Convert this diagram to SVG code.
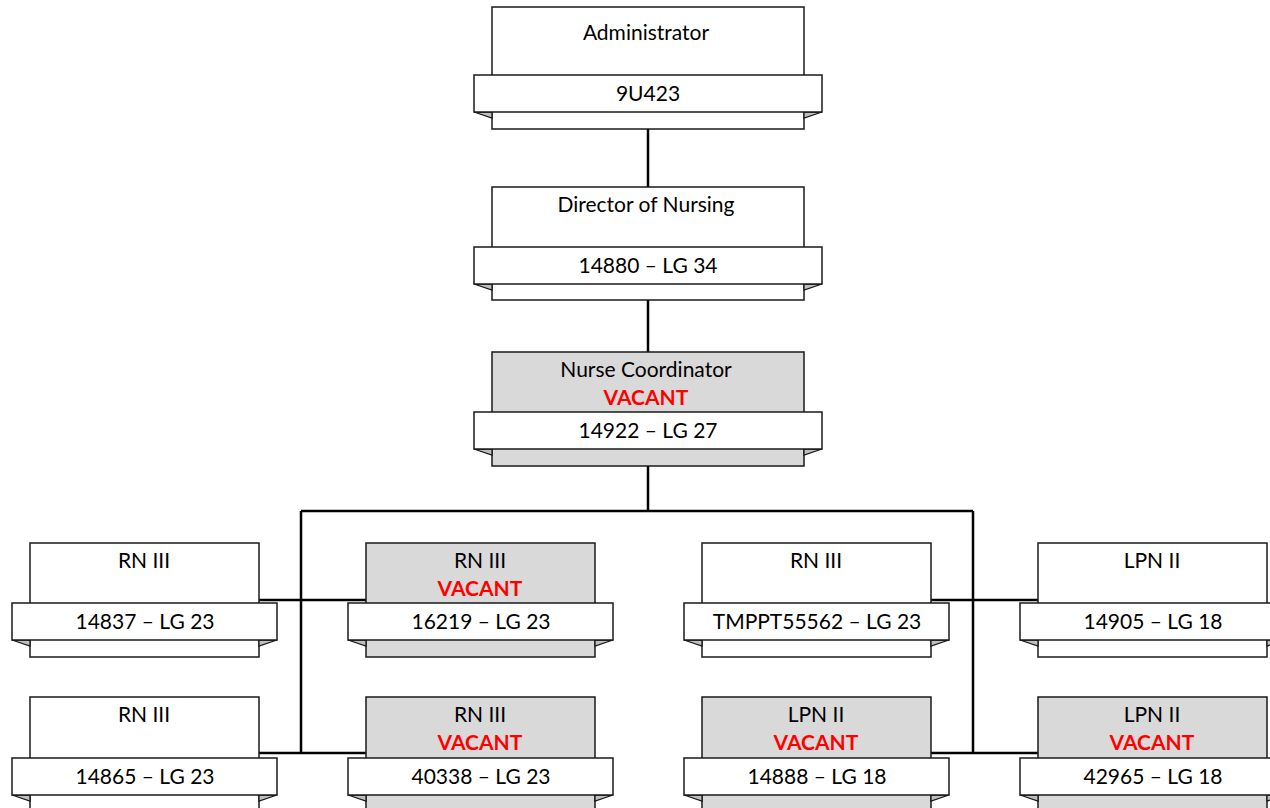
<svg xmlns="http://www.w3.org/2000/svg" width="1270" height="808" viewBox="0 0 1270 808">
<style>
.bk{fill:#fff;stroke:#1a1a1a;stroke-width:1.5}
.bk.v{fill:#d9d9d9}
.rb{fill:#fff;stroke:#1a1a1a;stroke-width:1.5}
.fd{fill:#bfbfbf;stroke:#1a1a1a;stroke-width:1.3;stroke-linejoin:miter}
.t{font-family:Lato,"Liberation Sans",sans-serif;font-size:21px;fill:#000;text-anchor:middle}
.vac{font-family:Lato,"Liberation Sans",sans-serif;font-size:21px;font-weight:bold;fill:#ff0000;text-anchor:middle}
.cn{fill:none;stroke:#000;stroke-width:2.5}
</style>
<rect width="1270" height="808" fill="#fff"/>
<g id="connectors">
<path class="cn" d="M648 129V187M648 300V352M648 466V511M301 511H973M301 511V753M973 511V753M259 600H366M259 753H366M931 600H1038M931 753H1038"/>
</g>
<g id="n-admin">
<rect class="bk" x="492" y="7" width="312" height="122"/>
<polygon class="fd" points="474,112 492,112 492,118"/>
<polygon class="fd" points="822,112 804,112 804,118"/>
<rect class="rb" x="474" y="75" width="348" height="37"/>
<text class="t" x="646" y="40">Administrator</text>
<text class="t" x="648" y="101">9U423</text>
</g>
<g id="n-director">
<rect class="bk" x="492" y="187" width="312" height="113"/>
<polygon class="fd" points="474,284 492,284 492,290"/>
<polygon class="fd" points="822,284 804,284 804,290"/>
<rect class="rb" x="474" y="247" width="348" height="37"/>
<text class="t" x="646" y="212">Director of Nursing</text>
<text class="t" x="648" y="273">14880 – LG 34</text>
</g>
<g id="n-coordinator">
<rect class="bk v" x="492" y="352" width="312" height="114"/>
<polygon class="fd" points="474,449 492,449 492,455"/>
<polygon class="fd" points="822,449 804,449 804,455"/>
<rect class="rb" x="474" y="412" width="348" height="37"/>
<text class="t" x="646" y="377">Nurse Coordinator</text>
<text class="vac" x="646" y="405">VACANT</text>
<text class="t" x="648" y="438">14922 – LG 27</text>
</g>
<g id="n-14837">
<rect class="bk" x="30" y="543" width="229" height="114"/>
<polygon class="fd" points="12,640 30,640 30,646"/>
<polygon class="fd" points="277,640 259,640 259,646"/>
<rect class="rb" x="12" y="603" width="265" height="37"/>
<text class="t" x="144" y="568">RN III</text>
<text class="t" x="145" y="629">14837 – LG 23</text>
</g>
<g id="n-16219">
<rect class="bk v" x="366" y="543" width="229" height="114"/>
<polygon class="fd" points="348,640 366,640 366,646"/>
<polygon class="fd" points="613,640 595,640 595,646"/>
<rect class="rb" x="348" y="603" width="265" height="37"/>
<text class="t" x="480" y="568">RN III</text>
<text class="vac" x="480" y="596">VACANT</text>
<text class="t" x="481" y="629">16219 – LG 23</text>
</g>
<g id="n-tmppt55562">
<rect class="bk" x="702" y="543" width="229" height="114"/>
<polygon class="fd" points="684,640 702,640 702,646"/>
<polygon class="fd" points="949,640 931,640 931,646"/>
<rect class="rb" x="684" y="603" width="265" height="37"/>
<text class="t" x="816" y="568">RN III</text>
<text class="t" x="817" y="629">TMPPT55562 – LG 23</text>
</g>
<g id="n-14905">
<rect class="bk" x="1038" y="543" width="229" height="114"/>
<polygon class="fd" points="1020,640 1038,640 1038,646"/>
<polygon class="fd" points="1285,640 1267,640 1267,646"/>
<rect class="rb" x="1020" y="603" width="265" height="37"/>
<text class="t" x="1152" y="568">LPN II</text>
<text class="t" x="1153" y="629">14905 – LG 18</text>
</g>
<g id="n-14865">
<rect class="bk" x="30" y="697" width="229" height="114"/>
<polygon class="fd" points="12,795 30,795 30,801"/>
<polygon class="fd" points="277,795 259,795 259,801"/>
<rect class="rb" x="12" y="758" width="265" height="37"/>
<text class="t" x="144" y="722">RN III</text>
<text class="t" x="145" y="784">14865 – LG 23</text>
</g>
<g id="n-40338">
<rect class="bk v" x="366" y="697" width="229" height="114"/>
<polygon class="fd" points="348,795 366,795 366,801"/>
<polygon class="fd" points="613,795 595,795 595,801"/>
<rect class="rb" x="348" y="758" width="265" height="37"/>
<text class="t" x="480" y="722">RN III</text>
<text class="vac" x="480" y="750">VACANT</text>
<text class="t" x="481" y="784">40338 – LG 23</text>
</g>
<g id="n-14888">
<rect class="bk v" x="702" y="697" width="229" height="114"/>
<polygon class="fd" points="684,795 702,795 702,801"/>
<polygon class="fd" points="949,795 931,795 931,801"/>
<rect class="rb" x="684" y="758" width="265" height="37"/>
<text class="t" x="816" y="722">LPN II</text>
<text class="vac" x="816" y="750">VACANT</text>
<text class="t" x="817" y="784">14888 – LG 18</text>
</g>
<g id="n-42965">
<rect class="bk v" x="1038" y="697" width="229" height="114"/>
<polygon class="fd" points="1020,795 1038,795 1038,801"/>
<polygon class="fd" points="1285,795 1267,795 1267,801"/>
<rect class="rb" x="1020" y="758" width="265" height="37"/>
<text class="t" x="1152" y="722">LPN II</text>
<text class="vac" x="1152" y="750">VACANT</text>
<text class="t" x="1153" y="784">42965 – LG 18</text>
</g>
</svg>
